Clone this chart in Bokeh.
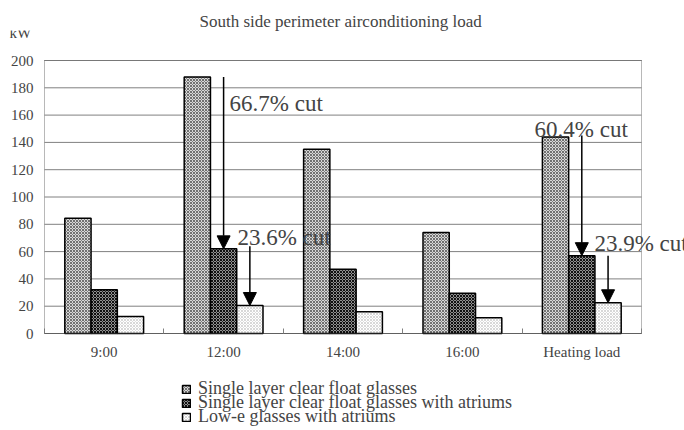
from bokeh.plotting import figure
from bokeh.models import (Range1d, FixedTicker, ColumnDataSource, Label, Arrow, NormalHead,
                          Legend, LegendItem)
from bokeh.embed import file_html
from bokeh.resources import INLINE

# ---- data ----
categories = ["9:00", "12:00", "14:00", "16:00", "Heating load"]
single_clear = [84.5, 188, 135, 74, 144]
single_atrium = [32, 62, 47, 29.5, 57]
lowe_atrium = [12.5, 20.5, 16, 11.5, 22.5]
series_names = ["Single layer clear float glasses",
                "Single layer clear float glasses with atriums",
                "Low-e glasses with atriums"]
y_ticks = [0, 20, 40, 60, 80, 100, 120, 140, 160, 180, 200]
unit_label = "kW"
title_text = "South side perimeter airconditioning load"

# annotations: cut percentages (group index, text, x offset from group centre, y)
cut_texts = ["66.7% cut", "23.6% cut", "60.4% cut", "23.9% cut"]
cut_group = [1, 1, 4, 4]
cut_text_dx = [0.05, 0.116, -0.396, 0.106]
cut_text_y = [168.5, 70.3, 149.5, 66]

FONT = "Liberation Serif"
BW = 0.22
n = len(categories)
centers = [i + 0.5 for i in range(n)]
ymax = y_ticks[-1]

# ---- layout (pixels): chart box 44..641 x 60..333 on a 684x430 canvas ----
W, H = 684, 430
BOX_L, BOX_R, BOX_T, BOX_B = 44, 641, 60, 333
TOP = 30  # title band
ppx = (BOX_R - BOX_L) / n
ppy = (BOX_B - BOX_T) / ymax
x_start, x_end = -BOX_L / ppx, (W - BOX_L) / ppx
y_start, y_end = -(H - BOX_B) / ppy, ymax + (BOX_T - TOP) / ppy

p = figure(width=W, height=H, output_backend="svg", toolbar_location=None,
           x_range=Range1d(x_start, x_end), y_range=Range1d(y_start, y_end),
           min_border_left=0, min_border_right=0, min_border_top=TOP, min_border_bottom=0)
p.background_fill_color = "white"
p.border_fill_color = "white"
p.outline_line_color = None

p.title.text = title_text
p.title.align = "left"
p.title.offset = 199
p.title.text_font = FONT
p.title.text_font_size = "17px"
p.title.text_font_style = "normal"
p.title.standoff = 0

# grid lines and chart box
grid_src = ColumnDataSource(dict(x0=[0] * len(y_ticks), x1=[n] * len(y_ticks), y=y_ticks))
p.segment(x0="x0", y0="y", x1="x1", y1="y", source=grid_src, line_color="#808080", line_width=1)
p.segment(x0=[0, n], y0=[ymax, 0], x1=[n, n], y1=[ymax, ymax],
          line_color="#707070", line_width=1, line_dash="1 1")

# bars
styles = [
    dict(fill_color="#d8d8d8", hatch_pattern="x", hatch_color="#707070", hatch_scale=3, hatch_weight=1),
    dict(fill_color="#909090", hatch_pattern="x", hatch_color="#101010", hatch_scale=3, hatch_weight=1),
    dict(fill_color="#ffffff", hatch_pattern="x", hatch_color="#d8d8d8", hatch_scale=3, hatch_weight=1),
]
series = [single_clear, single_atrium, lowe_atrium]
offsets = [-BW, 0, BW]
renderers = []
for vals, off, st in zip(series, offsets, styles):
    src = ColumnDataSource(dict(x=[c + off for c in centers], top=vals))
    r = p.vbar(x="x", top="top", width=BW, bottom=0, source=src,
               line_color="black", line_width=1.5, **st)
    renderers.append(r)

# axes, pinned at the chart box edges
p.xaxis.fixed_location = 0
p.xaxis.bounds = (0, n)
p.xaxis.ticker = FixedTicker(ticks=centers, minor_ticks=list(range(n + 1)))
p.xaxis.major_label_overrides = {c: lab for c, lab in zip(centers, categories)}
p.xaxis.major_tick_in = 0
p.xaxis.major_tick_out = 0
p.xaxis.minor_tick_in = 5
p.xaxis.minor_tick_out = 0
p.xaxis.minor_tick_line_color = "#808080"
p.xaxis.axis_line_color = "#404040"
p.xaxis.axis_line_dash = "1 1"
p.xaxis.major_label_text_font = FONT
p.xaxis.major_label_text_font_size = "15px"
p.xaxis.major_label_standoff = 10

p.yaxis.fixed_location = 0
p.yaxis.bounds = (0, ymax)
p.yaxis.ticker = FixedTicker(ticks=y_ticks)
p.yaxis.major_tick_in = 0
p.yaxis.major_tick_out = 0
p.yaxis.minor_tick_line_color = None
p.yaxis.axis_line_color = "#707070"
p.yaxis.axis_line_dash = "1 1"
p.yaxis.major_label_text_font = FONT
p.yaxis.major_label_text_font_size = "15px"
p.yaxis.major_label_standoff = 11

p.xgrid.grid_line_color = None
p.ygrid.grid_line_color = None

# unit label
p.add_layout(Label(x=-35 / ppx, y=ymax + 28 / ppy, text=unit_label, text_font=FONT,
                   text_font_size="15px", text_baseline="middle", text_align="left"))

# arrows
arrow_x = [centers[1], centers[1] + BW, centers[4], centers[4] + BW]
arrow_y0 = [single_clear[1], single_atrium[1] + 2, single_clear[4] + 1, single_atrium[4]]
arrow_y1 = [single_atrium[1], lowe_atrium[1], single_atrium[4], lowe_atrium[4]]
asrc = ColumnDataSource(dict(x0=arrow_x, y0=arrow_y0, x1=arrow_x, y1=arrow_y1))
p.add_layout(Arrow(x_start="x0", y_start="y0", x_end="x1", y_end="y1", source=asrc,
                   line_color="black", line_width=1.5,
                   end=NormalHead(size=13, fill_color="black", line_color="black")))

for t, g, dx, y in zip(cut_texts, cut_group, cut_text_dx, cut_text_y):
    p.add_layout(Label(x=centers[g] + dx, y=y, text=t, text_font=FONT, text_font_size="23px",
                       text_baseline="middle", text_align="left"))

# legend: one entry per row, rows 14 px apart
for k, (nm, r) in enumerate(zip(series_names, renderers)):
    lg = Legend(items=[LegendItem(label=nm, renderers=[r])], location=(181, 31 - 14 * k),
                glyph_width=10, glyph_height=10, label_height=10, label_standoff=7,
                label_text_font=FONT, label_text_font_size="18px",
                padding=0, margin=0, border_line_color=None, background_fill_alpha=0)
    p.add_layout(lg, "center")

open("out.html", "w").write(file_html(p, INLINE))
